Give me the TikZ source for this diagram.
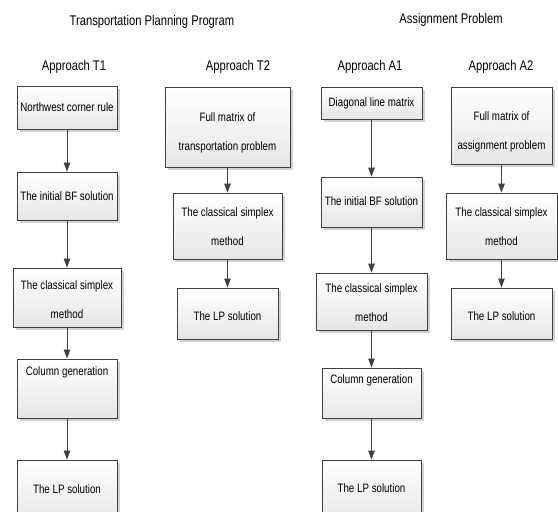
\documentclass[tikz,border=0pt]{standalone}
\usepackage{fontspec}
\setmainfont[FakeStretch=0.8]{Liberation Sans}
\usetikzlibrary{arrows.meta,shadows,fit}
\definecolor{boxline}{HTML}{404040}
\definecolor{boxgray}{HTML}{E6E6E6}
\definecolor{shadowgray}{HTML}{D2D2D2}
\definecolor{txtcol}{HTML}{000000}
\begin{document}
\begin{tikzpicture}[x=1pt,y=-1pt,
  boxnode/.style={draw=boxline, line width=0.8pt, top color=white, bottom color=boxgray,
    inner sep=0pt, drop shadow={shadow xshift=2.5pt, shadow yshift=-2.5pt, fill=shadowgray, opacity=1}},
  boxtext/.style={font=\fontsize{12.2}{14.5}\selectfont, text=txtcol, inner sep=0pt, align=center},
  headtext/.style={font=\fontsize{14}{16}\selectfont, text=txtcol, inner sep=0pt},
  arr/.style={draw=boxline, line width=0.8pt, -{Triangle[width=6.5pt,length=9pt]}}
]
\useasboundingbox (0,0) rectangle (558,512);
% headings
\node[headtext] (hT) at (152,22) {Transportation Planning Program};
\node[headtext] (hA) at (451,20) {Assignment Problem};
\node[headtext] (hT1) at (74,67) {Approach T1};
\node[headtext] (hT2) at (238,67) {Approach T2};
\node[headtext] (hA1) at (370,67) {Approach A1};
\node[headtext] (hA2) at (501,67) {Approach A2};
% T1 column
\node[boxnode, fit={(17,86)(117,129)}] (t1a) {};
\node[boxnode, fit={(17,172)(117,220)}] (t1b) {};
\node[boxnode, fit={(13,268)(121,327)}] (t1c) {};
\node[boxnode, fit={(17,359)(117,418)}] (t1d) {};
\node[boxnode, fit={(17,460)(117,522)}] (t1e) {};
\node[boxtext] (t1at) at (67,107) {Northwest corner rule};
\node[boxtext] (t1bt) at (67,196) {The initial BF solution};
\node[boxtext] (t1ct) at (67,300) {The classical simplex\\[14.5pt]method};
\node[boxtext] (t1dt) at (67,372) {Column generation};
\node[boxtext] (t1et) at (67,489) {The LP solution};
% T2 column
\node[boxnode, fit={(165,87)(290,167)}] (t2a) {};
\node[boxnode, fit={(173,193)(282,259)}] (t2b) {};
\node[boxnode, fit={(177,288)(278,339)}] (t2c) {};
\node[boxtext] (t2at) at (227.5,133) {Full matrix of\\[14.5pt]transportation problem};
\node[boxtext] (t2bt) at (227.5,227) {The classical simplex\\[14.5pt]method};
\node[boxtext] (t2ct) at (227.5,316) {The LP solution};
% A1 column
\node[boxnode, fit={(321,87)(422,119)}] (a1a) {};
\node[boxnode, fit={(321,177)(422,227)}] (a1b) {};
\node[boxnode, fit={(316,273)(427,330)}] (a1c) {};
\node[boxnode, fit={(322,368)(421,418)}] (a1d) {};
\node[boxnode, fit={(322,460)(421,522)}] (a1e) {};
\node[boxtext] (a1at) at (371.5,103) {Diagonal line matrix};
\node[boxtext] (a1bt) at (371.5,201) {The initial BF solution};
\node[boxtext] (a1ct) at (371.5,303) {The classical simplex\\[14.5pt]method};
\node[boxtext] (a1dt) at (371.5,380) {Column generation};
\node[boxtext] (a1et) at (371.5,488) {The LP solution};
% A2 column
\node[boxnode, fit={(451,87)(552,164)}] (a2a) {};
\node[boxnode, fit={(446,193)(557,259)}] (a2b) {};
\node[boxnode, fit={(451,288)(552,339)}] (a2c) {};
\node[boxtext] (a2at) at (501.5,132) {Full matrix of\\[14.5pt]assignment problem};
\node[boxtext] (a2bt) at (501.5,227) {The classical simplex\\[14.5pt]method};
\node[boxtext] (a2ct) at (501.5,316) {The LP solution};
% arrows
\draw[arr] (t1a) -- (t1b);
\draw[arr] (t1b) -- (t1c);
\draw[arr] (t1c) -- (t1d);
\draw[arr] (t1d) -- (t1e);
\draw[arr] (t2a) -- (t2b);
\draw[arr] (t2b) -- (t2c);
\draw[arr] (a1a) -- (a1b);
\draw[arr] (a1b) -- (a1c);
\draw[arr] (a1c) -- (a1d);
\draw[arr] (a1d) -- (a1e);
\draw[arr] (a2a) -- (a2b);
\draw[arr] (a2b) -- (a2c);
\end{tikzpicture}
\end{document}
